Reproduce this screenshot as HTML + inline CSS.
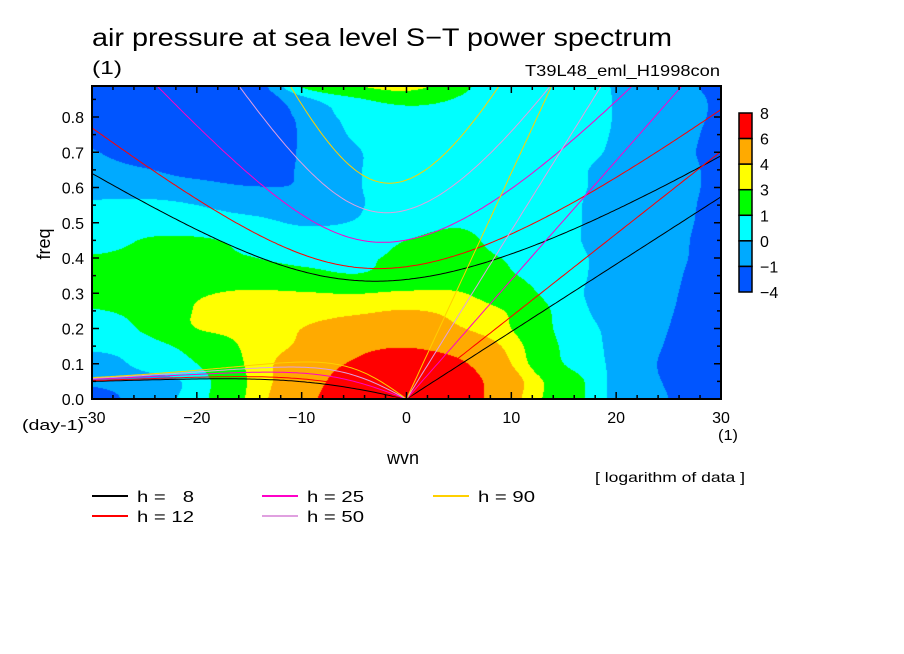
<!DOCTYPE html>
<html><head><meta charset="utf-8">
<style>
body{margin:0;background:#fff;width:904px;height:654px;overflow:hidden;font-family:"Liberation Sans",sans-serif;}
#wrap{position:relative;width:904px;height:654px;}
canvas{position:absolute;left:92px;top:86px;}
svg{position:absolute;left:0;top:0;}
</style></head>
<body><div id="wrap">
<canvas id="cv" width="629" height="313"></canvas>
<svg id="sv" width="904" height="654"></svg>
</div>
<script>
// ---- data ----
const wvnGrid = [-30,-25,-20,-15,-10,-5,0,5,10,15,20,25,30];
const freqGrid = [0,0.05,0.1,0.15,0.2,0.25,0.3,0.35,0.4,0.45,0.5,0.55,0.6,0.65,0.7,0.75,0.8,0.85,0.9];
const logPower = [
[-1.5,-0.5,0.5,3.2,5.3,7.5,8.5,7.2,4.5,2.0,-0.3,-1.0,-2.0],
[-0.8,-0.4,0.4,3.1,5.0,7.0,8.0,7.0,4.6,2.0,-0.3,-1.1,-2.0],
[-0.6,0.3,1.0,3.2,4.8,6.2,7.0,6.3,4.0,1.0,-0.2,-1.2,-2.0],
[0.2,0.5,1.6,3.3,4.2,5.5,5.9,5.2,3.6,0.8,-0.2,-1.1,-2.0],
[0.2,1.2,3.0,3.4,4.0,4.6,4.8,4.1,3.0,0.6,-0.2,-1.0,-2.0],
[0.9,1.5,3.1,3.5,3.6,3.8,4.05,3.7,2.8,0.5,-0.3,-0.9,-2.0],
[1.5,2.0,2.8,3.2,3.1,2.95,3.2,3.1,1.8,0.3,-0.3,-0.8,-2.0],
[1.3,1.7,2.0,1.9,1.5,1.1,1.6,1.8,1.1,0.3,-0.3,-0.7,-1.9],
[1.1,1.3,1.3,1.05,0.7,0.8,1.2,1.3,0.9,0.3,-0.3,-0.6,-1.7],
[0.5,1.05,1.1,0.8,0.5,0.6,1.0,1.2,0.6,0.2,-0.4,-0.6,-1.6],
[0.5,0.6,0.5,0.3,-0.1,0.05,0.6,0.9,0.5,0.2,-0.4,-0.6,-1.4],
[0.2,0.3,0.0,-0.4,-0.5,-0.1,0.4,0.6,0.4,0.15,-0.3,-0.6,-1.3],
[-0.5,-0.6,-0.7,-0.95,-0.9,-0.1,0.4,0.5,0.4,0.15,-0.2,-0.6,-1.2],
[-0.7,-0.95,-1.3,-1.5,-0.9,-0.1,0.4,0.5,0.3,0.15,-0.2,-0.6,-1.2],
[-0.95,-1.5,-1.8,-1.9,-0.9,-0.1,0.4,0.5,0.3,0.2,-0.1,-0.7,-1.2],
[-1.2,-1.8,-2.0,-2.0,-0.9,0.1,0.4,0.5,0.3,0.2,-0.05,-0.6,-1.2],
[-1.3,-1.9,-2.0,-2.0,-0.8,0.3,0.6,0.5,0.3,0.2,-0.03,-0.6,-1.1],
[-1.3,-1.9,-2.0,-2.0,-0.3,0.8,1.5,0.9,0.3,0.2,-0.03,-0.6,-1.1],
[-1.3,-1.9,-2.0,-1.8,1.5,3.3,4.5,1.5,0.4,0.2,-0.05,-0.7,-1.2]
];
const levels = [-4,-1,0,1,3,4,6,8];
const levelColors = ["#0055ff","#00aaff","#00ffff","#00ff00","#ffff00","#ffaa00","#ff0000"];
const depths = [8,12,25,50,90];
const depthColors = ["#000000","#ff0000","#ff00c8","#e0a0e0","#ffd000"];
const xTicks = [-30,-20,-10,0,10,20,30];
const yTicks = [0,0.1,0.2,0.3,0.4,0.5,0.6,0.7,0.8];

// ---- axes ----
const X0=92,X1=721,Y0=399,Y1=86;
const wMin=-30,wMax=30;
function xs(w){return X0+(w-wMin)/(wMax-wMin)*(X1-X0);}
function ys(f){return Y0-f*352.5;}

// ---- fill (Catmull-Rom bicubic) ----
function cr(p0,p1,p2,p3,t){return 0.5*((2*p1)+(-p0+p2)*t+(2*p0-5*p1+4*p2-p3)*t*t+(-p0+3*p1-3*p2+p3)*t*t*t);}
function G(j,i){j=Math.max(0,Math.min(freqGrid.length-1,j));i=Math.max(0,Math.min(wvnGrid.length-1,i));return logPower[j][i];}
function sample(w,f){
  let i=(w-wvnGrid[0])/5, j=(f-freqGrid[0])/0.05;
  i=Math.max(0,Math.min(wvnGrid.length-1.0001,i)); j=Math.max(0,Math.min(freqGrid.length-1.0001,j));
  const i0=Math.floor(i),j0=Math.floor(j),di=i-i0,dj=j-j0;
  const r=[];
  for(let m=-1;m<=2;m++) r.push(cr(G(j0+m,i0-1),G(j0+m,i0),G(j0+m,i0+1),G(j0+m,i0+2),di));
  return cr(r[0],r[1],r[2],r[3],dj);
}
function colorOf(v){
  for(let k=1;k<levels.length-1;k++){ if(v<levels[k]) return levelColors[k-1]; }
  return levelColors[levelColors.length-1];
}
function hex(c){return [parseInt(c.substr(1,2),16),parseInt(c.substr(3,2),16),parseInt(c.substr(5,2),16)];}
const cv=document.getElementById('cv'),ctx=cv.getContext('2d');
const img=ctx.createImageData(cv.width,cv.height);
for(let py=0;py<cv.height;py++){
  for(let px=0;px<cv.width;px++){
    const w=wMin+(px+0.5)/cv.width*(wMax-wMin);
    const f=(Y0-(Y1+py+0.5))/352.5;
    const rgb=hex(colorOf(sample(w,f)));
    const o=(py*cv.width+px)*4;
    img.data[o]=rgb[0];img.data[o+1]=rgb[1];img.data[o+2]=rgb[2];img.data[o+3]=255;
  }
}
ctx.putImageData(img,0,0);

// ---- svg ----
const NS="http://www.w3.org/2000/svg";
const sv=document.getElementById('sv');
function mk(tag,attrs,parent){const e=document.createElementNS(NS,tag);for(const k in attrs)e.setAttribute(k,attrs[k]);(parent||sv).appendChild(e);return e;}
function txt(s,x,y,size,anchor){const t=mk('text',{x:x,y:y,'font-size':size,'text-anchor':anchor||'start',fill:'#000','font-family':'Liberation Sans, sans-serif'});t.textContent=s;return t;}

const defs=mk('defs',{});
const cp=mk('clipPath',{id:'plotclip'},defs);
mk('rect',{x:X0,y:Y1,width:X1-X0,height:Y0-Y1},cp);

// dispersion curves
const g=9.81,a=6.371e6,Om=7.292e-5,beta=2*Om/a,toCpd=86400/(2*Math.PI);
function roots(wvn,h){
  const c=Math.sqrt(g*h),k=wvn/a;
  const p=-(c*c*k*k+3*beta*c),q=-beta*k*c*c;
  const m=2*Math.sqrt(-p/3);
  let arg=(3*q/(2*p))*Math.sqrt(-3/p);arg=Math.max(-1,Math.min(1,arg));
  const th=Math.acos(arg)/3;
  return [m*Math.cos(th),m*Math.cos(th-2*Math.PI/3),m*Math.cos(th-4*Math.PI/3)].map(v=>v*toCpd).sort((u,v)=>v-u);
}
const cg=mk('g',{'clip-path':'url(#plotclip)'});


depths.forEach((h,idx)=>{
  const col=depthColors[idx];
  let ig=[],ro=[],kv=[];
  for(let w=-30;w<=30.001;w+=0.25){
    const r=roots(w,h);
    ig.push(xs(w).toFixed(1)+','+ys(r[0]).toFixed(1));
    if(w<=0) ro.push(xs(w).toFixed(1)+','+ys(Math.max(0,r[1])).toFixed(1));
    if(w>=0) kv.push(xs(w).toFixed(1)+','+ys(Math.sqrt(g*h)*(w/a)*toCpd).toFixed(1));
  }
  const p1=mk('polyline',{points:ig.join(' '),fill:'none',stroke:col,'stroke-width':1},cg);
  
  
  const p2=mk('polyline',{points:ro.join(' '),fill:'none',stroke:col,'stroke-width':1},cg);
  
  
  const p3=mk('polyline',{points:kv.join(' '),fill:'none',stroke:col,'stroke-width':1},cg);
  
  
});

// frame and ticks
const fr=mk('rect',{x:X0,y:Y1,width:X1-X0,height:Y0-Y1,fill:'none',stroke:'#000','stroke-width':2});


const tg=mk('g',{stroke:'#000','stroke-width':1.5});


for(let w=-30;w<=30;w+=2){
  const L=(w%10===0)?7:4,x=xs(w);
  mk('line',{x1:x,y1:Y0,x2:x,y2:Y0-L},tg);mk('line',{x1:x,y1:Y1,x2:x,y2:Y1+L},tg);
}
for(let f=0;f<=0.851;f+=0.05){
  const L=(Math.round(f*100)%10===0)?7:4,y=ys(f);
  mk('line',{x1:X0,y1:y,x2:X0+L,y2:y},tg);mk('line',{x1:X1,y1:y,x2:X1-L,y2:y},tg);
}
xTicks.forEach(w=>{const t=txt((w<0?'\u2212':'')+Math.abs(w),xs(w),423,16,'middle');});
yTicks.forEach(f=>{const t=txt(f.toFixed(1),84,ys(f)+6,16,'end');});

// colorbar
const cbx=739,cbw=13,cbTop=113,cbH=179,bh=cbH/levelColors.length;
levelColors.slice().reverse().forEach((c,i)=>{
  const r=mk('rect',{x:cbx,y:cbTop+i*bh,width:cbw,height:bh,fill:c,stroke:'#000','stroke-width':1.5});
  
  
});
levels.slice().reverse().forEach((v,i)=>{
  const t=txt((v<0?'\u2212':'')+Math.abs(v),760,cbTop+i*bh+6,16,'start');
  
  
});

// legend
const legPos=[[92,496],[92,516],[262,496],[262,516],[433,496]];
depths.forEach((h,i)=>{
  const [lx,ly]=legPos[i];
  const l=mk('line',{x1:lx,y1:ly,x2:lx+36,y2:ly,stroke:depthColors[i],'stroke-width':2});
  
  
  const t=txt('h = '+(h<10?'\u2007':'')+h,lx+45,ly+6,16,'start');
  t.setAttribute('textLength','57');
  t.setAttribute('lengthAdjust','spacingAndGlyphs');
  
  
});
</script>
<svg width="904" height="654" style="position:absolute;left:0;top:0;pointer-events:none">
<g font-family="Liberation Sans, sans-serif" fill="#000">
<text x="92" y="46" font-size="25" textLength="580" lengthAdjust="spacingAndGlyphs">air pressure at sea level S−T power spectrum</text>
<text x="92" y="74" font-size="18" textLength="30" lengthAdjust="spacingAndGlyphs">(1)</text>
<text x="525" y="76" font-size="16" textLength="195" lengthAdjust="spacingAndGlyphs">T39L48_eml_H1998con</text>
<text x="50" y="244" font-size="18" text-anchor="middle" transform="rotate(-90 50 244)">freq</text>
<text x="22" y="430" font-size="15" textLength="62" lengthAdjust="spacingAndGlyphs">(day-1)</text>
<text x="718" y="440" font-size="15" textLength="20" lengthAdjust="spacingAndGlyphs">(1)</text>
<text x="403" y="464" font-size="18" text-anchor="middle">wvn</text>
<text x="595" y="482" font-size="14" textLength="150" lengthAdjust="spacingAndGlyphs">[ logarithm of data ]</text>
</g></svg>
</body></html>
